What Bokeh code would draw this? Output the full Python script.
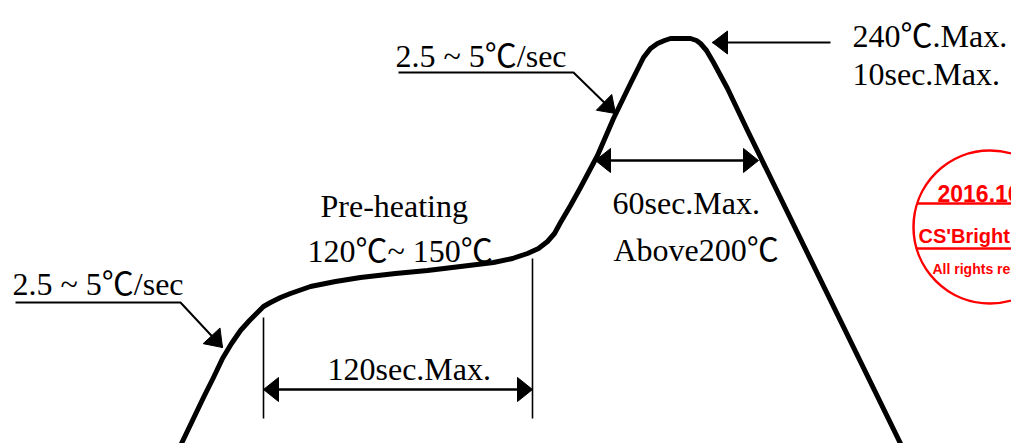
import numpy as np
from bokeh.plotting import figure
from bokeh.models import Range1d
from bokeh.core.properties import value
from bokeh.embed import file_html
from bokeh.resources import INLINE

# ---- reflow profile curve (drawing coordinates, y grows downward) ----
curve_x = [181, 192, 203, 213, 222, 231, 240, 249, 257, 263, 270, 280, 290, 310, 335,
           360, 395, 427, 460, 493, 512, 527, 538, 547, 554, 560, 570, 580, 597, 613,
           630, 643, 650, 657, 664, 670, 690, 696, 700, 706, 713, 727, 747, 770, 900]
curve_y = [443, 420, 397, 377, 358, 343, 330, 320, 312, 306, 302, 297, 293, 286, 281,
           277, 273, 270, 266, 262, 258, 253, 248, 241, 233, 222, 205, 187, 155, 118,
           83, 57, 48, 43, 40, 38, 38, 40, 43, 50, 62, 88, 130, 177, 443]

# ---- text labels ----
labels = ["240\u2103.Max.", "10sec.Max.", "2.5 ~ 5\u2103/sec", "2.5 ~ 5\u2103/sec",
          "Pre-heating", "120\u2103~ 150\u2103", "60sec.Max.", "Above200\u2103", "120sec.Max."]
label_x = [852, 852, 395, 12, 320, 307, 612, 613, 327]
label_y = [35, 73, 55, 283, 205, 250, 202, 249, 368]

# ---- dimension arrows (double headed) ----
dim_x0 = [595, 263]
dim_x1 = [758, 532]
dim_y = [160, 389]

# ---- single-headed pointer arrows: polylines, head at last point ----
ptr_xs = [[830, 712], [15, 180, 222], [398, 573, 615]]
ptr_ys = [[42, 42], [302, 302, 347], [72, 72, 113]]

# ---- vertical extension lines of the 120 sec span ----
ext_x = [263, 532]
ext_y0 = [317, 258]
ext_y1 = [418, 418]

# ---- stamp ----
stamp_cx, stamp_cy, stamp_r = 989.5, 226.5, 76.5
stamp_rules_y = [203, 248]
stamp_text = ["2016.10.18", "CS'Bright Tech", "All rights reserved"]
stamp_text_x = [937, 918, 932]
stamp_text_y = [193, 235, 268]
stamp_text_size = ["23px", "20px", "14px"]

W, H = 1011, 443


def head(tip, frm, length, width):
    t = np.array(tip, float)
    d = t - np.array(frm, float)
    d /= np.hypot(*d)
    n = np.array([-d[1], d[0]])
    b = t - d * length
    pts = [t, b + n * width / 2, b - n * width / 2]
    return [p[0] for p in pts], [p[1] for p in pts]


p = figure(width=W, height=H, output_backend="svg", toolbar_location=None,
           x_range=Range1d(0, W), y_range=Range1d(H, 0), min_border=0)
p.axis.visible = False
p.grid.visible = False
p.outline_line_color = None
p.background_fill_color = "white"

# curve
p.line(curve_x, curve_y, line_color="black", line_width=5, line_join="round", line_cap="round")

hx, hy = [], []
# dimension arrows
for x0, x1, y in zip(dim_x0, dim_x1, dim_y):
    p.line([x0 + 8, x1 - 8], [y, y], line_color="black", line_width=2.5)
    a = head((x0, y), (x1, y), 15, 24)
    b = head((x1, y), (x0, y), 15, 24)
    hx += [a[0], b[0]]
    hy += [a[1], b[1]]

# pointer arrows
p.multi_line(ptr_xs, ptr_ys, line_color="black", line_width=2)
for xs, ys, L, Wd in zip(ptr_xs, ptr_ys, [15, 16, 16], [23, 23, 22]):
    a = head((xs[-1], ys[-1]), (xs[-2], ys[-2]), L, Wd)
    hx.append(a[0])
    hy.append(a[1])
p.patches(hx, hy, fill_color="black", line_color="black", line_width=1)

# extension lines
p.segment(ext_x, ext_y0, ext_x, ext_y1, line_color="black", line_width=1.6)

# labels
p.text(label_x, label_y, text=labels, text_font=value("Liberation Serif, Noto Sans CJK SC"),
       text_font_size="32px", text_color="black", text_baseline="alphabetic", text_align="left")

# stamp
p.circle([stamp_cx], [stamp_cy], radius=stamp_r, fill_color=None, line_color="#ff0000", line_width=2.5)
rx0, rx1 = [], []
for ry in stamp_rules_y:
    hw = np.sqrt(stamp_r ** 2 - (ry - stamp_cy) ** 2)
    rx0.append(stamp_cx - hw)
    rx1.append(stamp_cx + hw)
p.segment(rx0, stamp_rules_y, rx1, stamp_rules_y, line_color="#ff0000", line_width=2.5)
for t, x, y, s in zip(stamp_text, stamp_text_x, stamp_text_y, stamp_text_size):
    p.text([x], [y], text=[t], text_font=value("Liberation Sans"), text_font_style="bold",
           text_font_size=s, text_color="#ff0000", text_baseline="alphabetic", text_align="left")

open("out.html", "w").write(file_html(p, INLINE))
